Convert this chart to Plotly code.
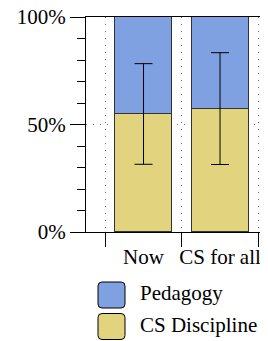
import plotly.graph_objects as go

categories = ["Now", "CS for all"]
cs_discipline = [0.549, 0.574]
pedagogy = [0.451, 0.426]
discipline_err = [0.234, 0.26]
legend_labels = ["Pedagogy", "CS Discipline"]

BLUE = "#7fa0e1"
YELLOW = "#e2d47f"
FONT = "Liberation Serif"

# the page body has an 8px default margin; lay out in page pixels and shift
OFF = 8
W, H = 268, 341
PL, PT, PR, PB = 86, 17, 268, 232          # plot box in page pixels
L, T = PL - OFF, PT - OFF
R = W - (PR - OFF)
B = H - (PB - OFF)
pw, ph = PR - PL, PB - PT

def px_x(x):
    return (x - PL) / pw

def px_y(y):
    return (PB - y) / ph

xs = list(range(len(categories)))

fig = go.Figure()
fig.add_trace(go.Bar(x=xs, y=cs_discipline, name=legend_labels[1], width=0.745,
                     marker=dict(color=YELLOW, line=dict(color="#333333", width=1)),
                     showlegend=False))
fig.add_trace(go.Bar(x=xs, y=pedagogy, name=legend_labels[0], width=0.745,
                     marker=dict(color=BLUE, line=dict(color="#333333", width=1)),
                     showlegend=False))
fig.add_trace(go.Scatter(x=xs, y=cs_discipline, mode="markers",
                         marker=dict(opacity=0, size=1),
                         error_y=dict(type="data", array=discipline_err, color="black",
                                      thickness=1, width=9),
                         showlegend=False, hoverinfo="skip"))

# legend drawn as rounded boxes + text
def rounded_box(x0, y0, x1, y1, r):
    X0, X1 = px_x(x0), px_x(x1)
    Y0, Y1 = px_y(y0), px_y(y1)
    rx = r / pw
    ry = r / ph
    return (f"M{X0+rx},{Y0} L{X1-rx},{Y0} Q{X1},{Y0} {X1},{Y0-ry} "
            f"L{X1},{Y1+ry} Q{X1},{Y1} {X1-rx},{Y1} L{X0+rx},{Y1} "
            f"Q{X0},{Y1} {X0},{Y1+ry} L{X0},{Y0-ry} Q{X0},{Y0} {X0+rx},{Y0} Z")

legend_items = [(legend_labels[0], BLUE, 282, 308), (legend_labels[1], YELLOW, 313.5, 339.5)]
for lab, col, y0, y1 in legend_items:
    fig.add_shape(type="path", xref="paper", yref="paper",
                  path=rounded_box(98, y0, 125, y1, 4),
                  fillcolor=col, line=dict(color="black", width=1))
    fig.add_annotation(xref="paper", yref="paper", x=px_x(138), y=px_y((y0 + y1) / 2 - 2),
                       text=lab, showarrow=False, xanchor="left", yanchor="middle",
                       font=dict(family=FONT, size=21, color="black"))

fig.update_layout(
    width=W, height=H,
    margin=dict(l=L, r=R, t=T, b=B, autoexpand=False),
    paper_bgcolor="white", plot_bgcolor="white",
    barmode="stack",
    bargap=0,
    showlegend=False,
    font=dict(family=FONT, size=21, color="black"),
    xaxis=dict(range=[-0.752, 1.627], tickvals=xs, ticktext=categories,
               ticks="", showgrid=False, zeroline=False, automargin=False,
               showline=True, linecolor="black", linewidth=1, mirror=True,
               ticklabelstandoff=6, ticklabeloverflow="allow",
               minor=dict(tickvals=[-0.5, 0.5, 1.5], ticks="outside", ticklen=14,
                          tickwidth=1, tickcolor="black", showgrid=True,
                          gridcolor="#777777", griddash="1px,6px", gridwidth=1)),
    yaxis=dict(range=[0, 1], tickvals=[0, 0.5, 1], tickformat=".0%",
               ticks="outside", ticklen=15, tickwidth=1, tickcolor="black",
               showgrid=True, gridcolor="#777777", griddash="1px,6px", gridwidth=1,
               zeroline=False, showline=True, linecolor="black", linewidth=1,
               automargin=False, ticklabeloverflow="allow",
               minor=dict(dtick=0.1, ticks="outside", ticklen=8, tickwidth=1,
                          tickcolor="black", showgrid=False)),
)

fig.write_html("out.html")
